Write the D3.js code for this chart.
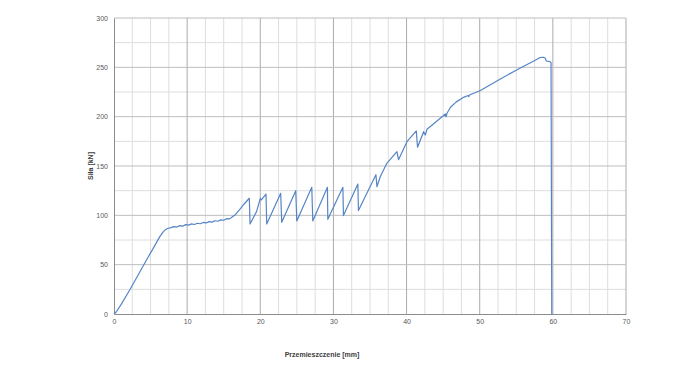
<!DOCTYPE html>
<html>
<head>
<meta charset="utf-8">
<script src="https://cdn.jsdelivr.net/npm/d3@7"></script>
<style>
  body { margin: 0; background: #fff; }
  svg { display: block; font-family: "Liberation Sans", Arial, sans-serif; }
  .tick text { fill: #595959; font-size: 7px; }
  .axis-title { fill: #404040; font-size: 7px; font-weight: bold; }
</style>
</head>
<body>
<div id="chart"></div>
<script>
/* CONSTANTS AND GLOBALS */
const width = 695,
  height = 391,
  margin = { top: 18, bottom: 77, left: 114, right: 69 };

// displacement [mm] and force [kN]
const displacement = [
  0, 0.3, 1.0, 2.15, 3.3, 4.44, 5.4, 6.26, 6.7, 7.0, 7.4, 7.8,
  8.2, 8.6, 9.0, 9.4, 9.8, 10.2, 10.6, 11.0, 11.4, 11.8, 12.2, 12.6, 13.0, 13.4,
  13.8, 14.2, 14.6, 15.0, 15.4, 15.8, 16.1, 16.5, 17.2, 17.8,
  18.5, 18.6, 19.5, 20.0, 20.15, 20.78, 20.88, 22.79, 22.93, 24.85, 24.99,
  27.04, 27.18, 29.18, 29.23, 31.29, 31.37, 33.34, 33.42, 35.81, 35.95,
  36.4, 37.3, 38.68, 38.9, 40.05, 41.33, 41.5, 42.33, 42.56, 42.79, 43.25,
  45.3, 45.4, 45.53, 46.0, 46.8, 47.8, 48.4, 48.5, 48.6, 50.1, 52.4, 55.1,
  57.4, 58.2, 58.7, 58.95, 59.1, 59.6, 59.75, 59.85
];
const force = [
  0, 2, 10, 24.3, 39.5, 54.7, 67, 78.4, 83, 85.3, 86.9, 87.6,
  88.6, 88.1, 89.6, 89.0, 90.6, 90.1, 91.3, 90.7, 92.0, 91.5, 92.8, 92.3, 93.6, 93.1,
  94.5, 94.0, 95.4, 95.0, 96.6, 96.4, 98, 100, 106, 111.5,
  117.3, 91.2, 104, 117.2, 115.6, 121.6, 91.2, 122.3, 92.9, 125.0, 94.3,
  128.4, 94.3, 128.4, 96.0, 128.4, 99.8, 131.7, 105, 141.2, 129,
  139.1, 152.7, 164.5, 156.4, 174.6, 185.5, 169, 184.8, 181.4, 187.2, 190,
  202.7, 199.9, 203.4, 209.5, 215, 219.6, 221.5, 220.3, 222, 226.5, 236.5, 247.5,
  256.5, 259.8, 260.2, 259.5, 256.4, 255.7, 255, 0
];

const xTicks = [0, 10, 20, 30, 40, 50, 60, 70];
const yTicks = [0, 50, 100, 150, 200, 250, 300];
const xMinor = [2.5, 5, 7.5, 12.5, 15, 17.5, 22.5, 25, 27.5, 32.5, 35, 37.5,
  42.5, 45, 47.5, 52.5, 55, 57.5, 62.5, 65, 67.5];
const yMinor = [25, 75, 125, 175, 225, 275];

const data = displacement.map((d, i) => ({ x: d, y: force[i] }));

/* SVG */
const svg = d3.select("#chart")
  .append("svg")
  .attr("width", width)
  .attr("height", height);

/* SCALES */
const xScale = d3.scaleLinear()
  .domain([0, 70])
  .range([margin.left, width - margin.right]);

const yScale = d3.scaleLinear()
  .domain([0, 300])
  .range([height - margin.bottom, margin.top]);

// minor grid
svg.append("g")
  .selectAll("line")
  .data(xMinor)
  .join("line")
  .attr("x1", d => xScale(d)).attr("x2", d => xScale(d))
  .attr("y1", yScale(0)).attr("y2", yScale(300))
  .attr("stroke", "#dedede");

svg.append("g")
  .selectAll("line")
  .data(yMinor)
  .join("line")
  .attr("x1", xScale(0)).attr("x2", xScale(70))
  .attr("y1", d => yScale(d)).attr("y2", d => yScale(d))
  .attr("stroke", "#dedede");

// major grid
svg.append("g")
  .selectAll("line")
  .data(xTicks.slice(1))
  .join("line")
  .attr("x1", d => xScale(d)).attr("x2", d => xScale(d))
  .attr("y1", yScale(0)).attr("y2", yScale(300))
  .attr("stroke", "#ababab");

svg.append("g")
  .selectAll("line")
  .data(yTicks.slice(1))
  .join("line")
  .attr("x1", xScale(0)).attr("x2", xScale(70))
  .attr("y1", d => yScale(d)).attr("y2", d => yScale(d))
  .attr("stroke", "#bdbdbd");

/* AXES */
const xAxis = d3.axisBottom(xScale).tickValues(xTicks).tickSize(0).tickPadding(5);
const yAxis = d3.axisLeft(yScale).tickValues(yTicks).tickSize(0).tickPadding(6);

svg.append("g")
  .attr("transform", `translate(0,${yScale(0)})`)
  .attr("color", "#595959")
  .call(xAxis)
  .call(g => g.select(".domain").attr("stroke", "#8c8c8c"));

svg.append("g")
  .attr("transform", `translate(${xScale(0)},0)`)
  .attr("color", "#595959")
  .call(yAxis)
  .call(g => g.select(".domain").attr("stroke", "#8c8c8c"));

/* LINE */
const line = d3.line()
  .x(d => xScale(d.x))
  .y(d => yScale(d.y));

svg.append("path")
  .datum(data)
  .attr("fill", "none")
  .attr("stroke", "#5585c6")
  .attr("stroke-width", 1.2)
  .attr("stroke-linejoin", "round")
  .attr("d", line);

/* TITLES */
svg.append("text")
  .attr("class", "axis-title")
  .attr("x", 322)
  .attr("y", 357)
  .attr("text-anchor", "middle")
  .text("Przemieszczenie [mm]");

svg.append("text")
  .attr("class", "axis-title")
  .attr("transform", "translate(93,166) rotate(-90)")
  .attr("text-anchor", "middle")
  .text("Siła [kN]");
</script>
</body>
</html>
